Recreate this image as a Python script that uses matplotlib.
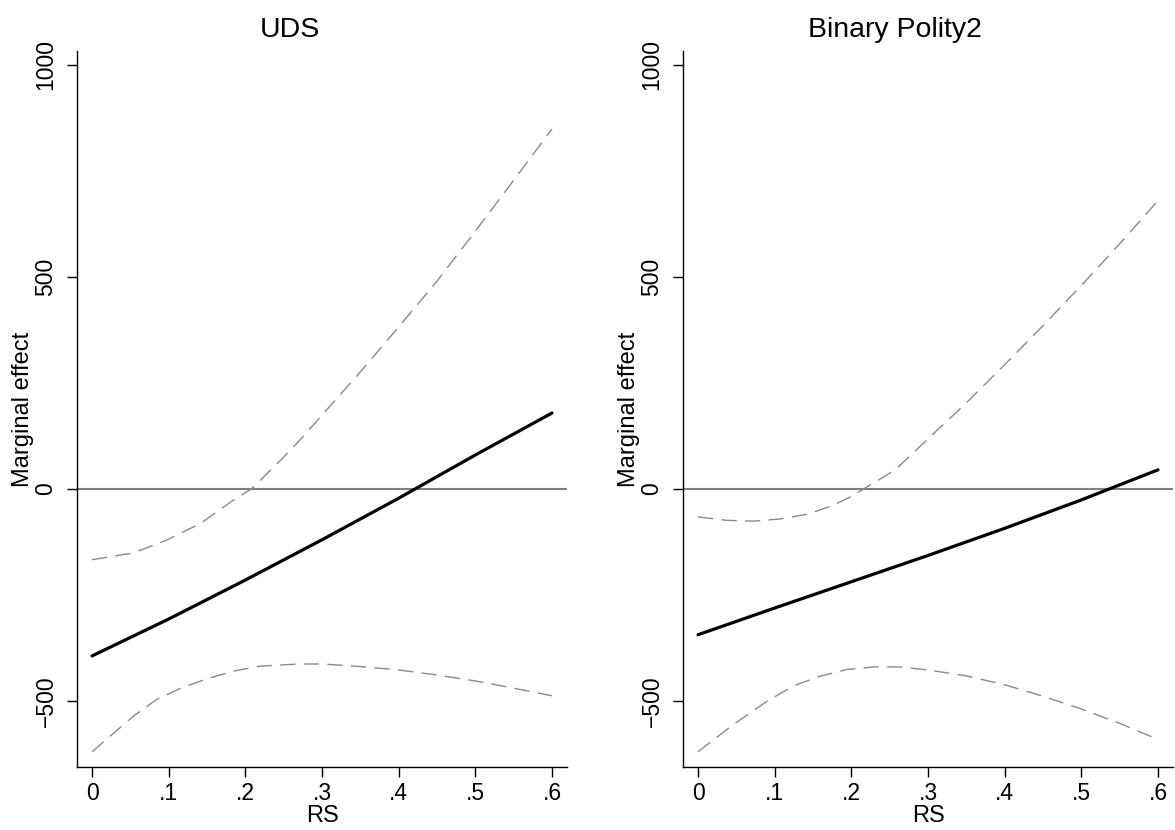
import matplotlib
matplotlib.use("Agg")
import matplotlib.pyplot as plt

plt.rcParams['font.family'] = ['Liberation Sans', 'DejaVu Sans']

# ----------------------------
# values
# ----------------------------
# UDS panel
uds_me_x = [0, .1, .2, .3, .4, .5, .6]
uds_me = [-394, -307, -215, -120, -22, 80, 179]
uds_hi_x = [0, .054, .097, .141, .184, .208, .25, .271, .3, .35, .4, .45, .5, .55, .6]
uds_hi = [-167, -151, -121, -82, -27, 0, 75, 115, 174, 276, 382, 490, 608, 728, 849]
uds_lo_x = [0, .054, .084, .117, .15, .184, .219, .271, .3, .35, .4, .45, .5, .55, .6]
uds_lo = [-620, -536, -497, -469, -448, -430, -418, -413, -413, -419, -427, -439, -453, -470, -488]

# Binary Polity2 panel
pol_me_x = [0, .1, .2, .3, .4, .5, .6]
pol_me = [-344, -281, -219, -157, -93, -26, 45]
pol_hi_x = [0, .037, .072, .107, .142, .176, .203, .216, .242, .259, .3, .35, .4, .45, .5, .55, .6]
pol_hi = [-66, -74, -76, -71, -60, -39, -15, 0, 28, 48, 118, 203, 293, 385, 480, 578, 680]
pol_lo_x = [0, .046, .09, .124, .159, .194, .229, .263, .3, .35, .4, .45, .5, .55, .6]
pol_lo = [-620, -556, -501, -465, -442, -426, -420, -420, -427, -441, -462, -489, -519, -553, -591]

titles = ["UDS", "Binary Polity2"]
xticks = [0, .1, .2, .3, .4, .5, .6]
xlabels = ["0", ".1", ".2", ".3", ".4", ".5", ".6"]
yticks = [-500, 0, 500, 1000]
ylabels = ["\u2212500", "0", "500", "1000"]

fig = plt.figure(figsize=(11.75, 8.3), dpi=100)

panels = [
    (uds_me_x, uds_me, uds_hi_x, uds_hi, uds_lo_x, uds_lo),
    (pol_me_x, pol_me, pol_hi_x, pol_hi, pol_lo_x, pol_lo),
]
lefts = [77 / 1175, 683 / 1175]
title_x = [290 / 1175, 895 / 1175]

for i, (mx, me, hx, hi, lx, lo) in enumerate(panels):
    ax = fig.add_axes([lefts[i], 1 - 767 / 830, 490 / 1175, 716 / 830])
    ax.axhline(0, color='#7f7f7f', lw=1.5, zorder=1)
    ax.plot(hx, hi, color='#8a8a8a', lw=1.0, dashes=(11, 6))
    ax.plot(lx, lo, color='#8a8a8a', lw=1.0, dashes=(11, 6))
    ax.plot(mx, me, color='black', lw=2.3, solid_capstyle='round')

    ax.set_xlim(-0.0196, 0.6196)
    ax.set_ylim(-656, 1033)
    ax.set_xticks(xticks)
    ax.set_xticklabels(xlabels)
    ax.set_yticks(yticks)
    ax.set_yticklabels(ylabels, rotation=90, va='center')

    for s in ['top', 'right']:
        ax.spines[s].set_visible(False)
    for s in ['left', 'bottom']:
        ax.spines[s].set_linewidth(1.0)
    ax.tick_params(direction='out', length=7, width=1.0, labelsize=16.5)
    ax.tick_params(axis='x', pad=4)
    ax.tick_params(axis='y', pad=7)

    ax.set_xlabel("RS", fontsize=17, labelpad=0)
    ax.set_ylabel("Marginal effect", fontsize=17, va='center')
    ax.yaxis.set_label_coords(-0.111, 0.5)

    fig.text(title_x[i], 1 - 37 / 830, titles[i], fontsize=20.5,
             ha='center', va='baseline')

fig.savefig("out.png", dpi=100)
plt.close()
